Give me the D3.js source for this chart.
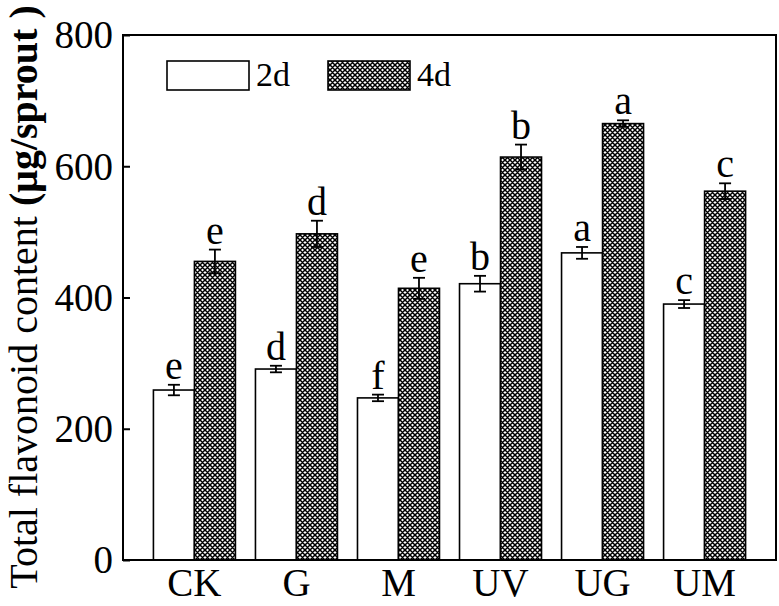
<!DOCTYPE html>
<html>
<head>
<meta charset="utf-8">
<script src="https://cdn.jsdelivr.net/npm/d3@7"></script>
<style>
	body { margin: 0; background: #fff; }
	text { font-family: "Liberation Serif", "Times New Roman", serif; fill: #000; }
</style>
</head>
<body>
<div id="chart"></div>
<script>
// treatments along the x axis
var categories = ["CK", "G", "M", "UV", "UG", "UM"];

// series names
var seriesNames = ["2d", "4d"];

// mean flavonoid content, ug/sprout
var values2d = [259, 291, 247, 421, 468, 390];
var values4d = [455, 497, 414, 614, 665, 562];

// error bar half lengths
var errors2d = [8, 5, 5, 12, 9, 6];
var errors4d = [18, 20, 16, 19, 5, 12];

// significance letters
var letters2d = ["e", "d", "f", "b", "a", "c"];
var letters4d = ["e", "d", "e", "b", "a", "c"];

// y axis ticks
var yTicks = [0, 200, 400, 600, 800];

var width = 779, height = 606;
var margin = { left: 123, right: 3, top: 35, bottom: 46 };

var svg = d3.select("#chart").append("svg")
	.attr("width", width)
	.attr("height", height);

// cross hatch for the 4d bars
var p = 5;
var defs = svg.append("defs");
var pat = defs.append("pattern")
	.attr("id", "hatch")
	.attr("patternUnits", "userSpaceOnUse")
	.attr("width", p)
	.attr("height", p);
pat.append("rect").attr("width", p).attr("height", p).attr("fill", "#fff");
pat.append("path")
	.attr("d", "M-1,1 l2,-2 M0," + p + " l" + p + ",-" + p + " M" + (p - 1) + "," + (p + 1) + " l2,-2" +
		" M-1," + (p - 1) + " l2,2 M0,0 l" + p + "," + p + " M" + (p - 1) + ",-1 l2,2")
	.attr("stroke", "#000")
	.attr("stroke-width", 1.5);

var x = d3.scaleBand()
	.domain(categories)
	.range([margin.left, width - margin.right])
	.paddingInner(0)
	.paddingOuter(0.2);

var barW = 41;

var y = d3.scaleLinear()
	.domain([0, 800])
	.range([height - margin.bottom, margin.top]);

// build one table from the arrays
var rows = [];
categories.forEach(function (c, i) {
	rows.push({ cat: c, s: 0, v: values2d[i], e: errors2d[i], l: letters2d[i] });
	rows.push({ cat: c, s: 1, v: values4d[i], e: errors4d[i], l: letters4d[i] });
});

function barX(d) {
	var mid = x(d.cat) + x.bandwidth() / 2;
	return d.s === 0 ? mid - barW : mid;
}

// bars
svg.selectAll("rect.bar")
	.data(rows)
	.enter().append("rect")
	.attr("class", "bar")
	.attr("x", barX)
	.attr("y", function (d) { return y(d.v); })
	.attr("width", barW)
	.attr("height", function (d) { return y(0) - y(d.v); })
	.attr("fill", function (d) { return d.s === 0 ? "#fff" : "url(#hatch)"; })
	.attr("stroke", "#000")
	.attr("stroke-width", 1.6);

// error bars
var eb = svg.selectAll("g.err")
	.data(rows)
	.enter().append("g")
	.attr("class", "err")
	.attr("stroke", "#000")
	.attr("stroke-width", 1.8);
eb.append("line")
	.attr("x1", function (d) { return barX(d) + barW / 2; })
	.attr("x2", function (d) { return barX(d) + barW / 2; })
	.attr("y1", function (d) { return y(d.v - d.e); })
	.attr("y2", function (d) { return y(d.v + d.e); });
eb.append("line")
	.attr("x1", function (d) { return barX(d) + barW / 2 - 6; })
	.attr("x2", function (d) { return barX(d) + barW / 2 + 6; })
	.attr("y1", function (d) { return y(d.v + d.e); })
	.attr("y2", function (d) { return y(d.v + d.e); });
eb.append("line")
	.attr("x1", function (d) { return barX(d) + barW / 2 - 6; })
	.attr("x2", function (d) { return barX(d) + barW / 2 + 6; })
	.attr("y1", function (d) { return y(d.v - d.e); })
	.attr("y2", function (d) { return y(d.v - d.e); });

// letters above the error bars
svg.selectAll("text.sig")
	.data(rows)
	.enter().append("text")
	.attr("class", "sig")
	.attr("x", function (d) { return barX(d) + barW / 2; })
	.attr("y", function (d) { return y(d.v + d.e) - 6; })
	.attr("text-anchor", "middle")
	.attr("font-size", 40)
	.text(function (d) { return d.l; });

// frame
svg.append("rect")
	.attr("x", margin.left)
	.attr("y", margin.top)
	.attr("width", width - margin.left - margin.right)
	.attr("height", height - margin.top - margin.bottom)
	.attr("fill", "none")
	.attr("stroke", "#000")
	.attr("stroke-width", 2);

// y axis, ticks pointing in
var yAxis = svg.append("g")
	.attr("transform", "translate(" + margin.left + ",0)")
	.call(d3.axisLeft(y).tickValues(yTicks).tickSizeInner(-7).tickSizeOuter(0).tickPadding(10));
yAxis.select(".domain").remove();
yAxis.selectAll("line").attr("stroke-width", 2);
yAxis.selectAll("text")
	.attr("font-size", 39)
	.attr("font-family", "Liberation Serif")
	.attr("dy", "0.33em");

// x axis labels only
var xAxis = svg.append("g")
	.attr("transform", "translate(0," + (height - margin.bottom) + ")")
	.call(d3.axisBottom(x).tickSize(0).tickPadding(8));
xAxis.select(".domain").remove();
xAxis.selectAll("text")
	.attr("font-size", 39)
	.attr("font-family", "Liberation Serif");

// y axis title
var title = svg.append("text")
	.attr("transform", "translate(37," + 297 + ") rotate(-90)")
	.attr("text-anchor", "middle")
	.attr("font-size", 40);
title.append("tspan").text("Total flavonoid content ");
title.append("tspan").attr("font-weight", "bold").text("(μg/sprout )");

// legend
var legend = svg.append("g");
var legX = [167, 328];
seriesNames.forEach(function (name, i) {
	legend.append("rect")
		.attr("x", legX[i])
		.attr("y", 61)
		.attr("width", 82)
		.attr("height", 29)
		.attr("fill", i === 0 ? "#fff" : "url(#hatch)")
		.attr("stroke", "#000")
		.attr("stroke-width", 1.6);
	legend.append("text")
		.attr("x", legX[i] + 89)
		.attr("y", 86)
		.attr("font-size", 34)
		.text(name);
});
</script>
</body>
</html>
